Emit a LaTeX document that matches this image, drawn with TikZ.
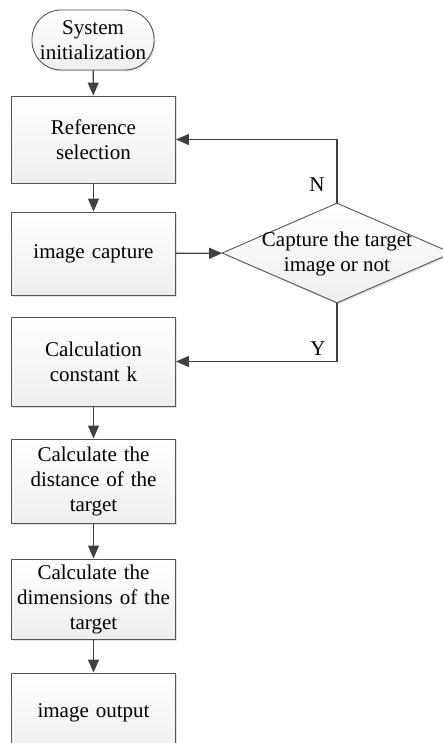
\documentclass[tikz,border=0pt]{standalone}
\usepackage{fontspec}
\setmainfont{Liberation Serif}
\usetikzlibrary{shapes.geometric,arrows.meta,shadows}
\definecolor{edge}{HTML}{404040}
\definecolor{border}{HTML}{555555}
\begin{document}
\begin{tikzpicture}[x=1pt,y=-1pt,
  font=\fontsize{21}{25}\selectfont,
  shade box/.style={draw=border, line width=0.9pt, top color=white, bottom color=gray!13,
    drop shadow={shadow xshift=1.5pt, shadow yshift=-1.5pt, opacity=0.25, fill=gray}},
  stepbox/.style={shade box, rectangle, minimum width=163pt, inner sep=2pt, align=center, text width=160pt},
  term/.style={shade box, rectangle, rounded corners=29pt, minimum width=122pt, minimum height=60pt, align=center, inner sep=0pt},
  dec/.style={shade box, diamond, minimum width=230pt, minimum height=100pt, inner sep=0pt},
  txt/.style={align=center, inner sep=0pt},
  arr/.style={draw=edge, line width=1.2pt, -{Triangle[length=13pt,width=11pt]}},
  lbl/.style={inner sep=0pt}]
\clip (0,0) rectangle (443,743);
\useasboundingbox (0,0) rectangle (443,743);
\node[term] (start) at (93,40) {System\\initialization};
\node[stepbox, minimum height=87pt] (b1) at (93.5,139.5) {Reference\\selection};
\node[stepbox, minimum height=83pt] (b2) at (93.5,253.5) {image capture};
\node[dec] (dec) at (337,253) {};
\node[txt] (dectext) at (337,253.5) {Capture the target\\image or not};
\node[stepbox, minimum height=89pt] (b3) at (93.5,361.5) {Calculation\\constant k};
\node[stepbox, minimum height=84pt] (b4) at (93.5,481) {Calculate the\\distance of the\\target};
\node[stepbox, minimum height=80pt] (b5) at (93.5,599) {Calculate the\\dimensions of the\\target};
\node[stepbox, minimum height=80pt] (b6) at (93.5,713) {image output};
\draw[arr] (start) -- (b1);
\draw[arr] (b1) -- (b2);
\draw[arr] (b2) -- (dec);
\draw[arr] (dec.north) |- (b1.east);
\draw[arr] (dec.south) |- (b3.east);
\draw[arr] (b3) -- (b4);
\draw[arr] (b4) -- (b5);
\draw[arr] (b5) -- (b6);
\node[lbl] (nlab) at (317,185) {N};
\node[lbl] (ylab) at (318,349) {Y};
\end{tikzpicture}
\end{document}
